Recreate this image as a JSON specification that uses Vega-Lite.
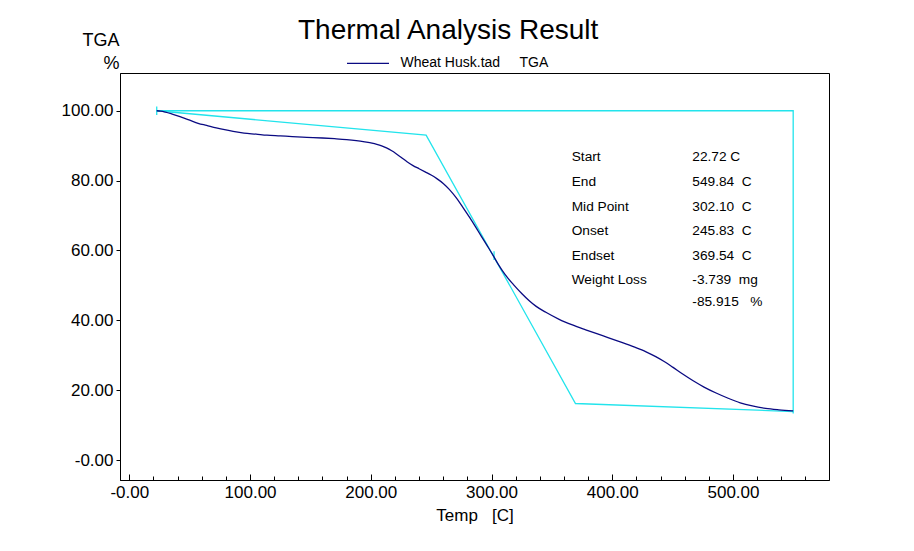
{
  "$schema": "https://vega.github.io/schema/vega-lite/v6.json",
  "width": 709,
  "height": 407,
  "autosize": {"type": "none"},
  "padding": {"left": 120, "top": 73, "right": 85, "bottom": 71},
  "background": "white",
  "config": {
    "view": {"stroke": "black", "strokeWidth": 1},
    "font": "Liberation Sans",
    "axis": {
      "domainColor": "black", "domainWidth": 1, "tickColor": "black", "tickWidth": 1,
      "labelColor": "black", "titleColor": "black", "grid": false,
      "labelFont": "Liberation Sans", "titleFont": "Liberation Sans",
      "labelFontSize": 17, "titleFontSize": 17, "titleFontWeight": "normal",
      "labelOverlap": false, "labelFlush": false, "labelBound": false
    },
    "legend": {"labelFont": "Liberation Sans", "labelColor": "black"}
  },
  "title": {
    "text": "Thermal Analysis Result", "anchor": "start", "frame": "group", "dx": 178, "dy": 72,
    "fontSize": 28, "fontWeight": "normal", "font": "Liberation Sans", "color": "black",
    "baseline": "alphabetic", "offset": 36
  },
  "datasets": {
    "construction": [
      {"seg": "A", "i": 1, "temp": 22.72, "tga": 100.0},
      {"seg": "A", "i": 2, "temp": 549.84, "tga": 100.0},
      {"seg": "A", "i": 3, "temp": 549.84, "tga": 13.3},
      {"seg": "B", "i": 1, "temp": 22.72, "tga": 100.0},
      {"seg": "B", "i": 2, "temp": 245.83, "tga": 93.0},
      {"seg": "B", "i": 3, "temp": 369.54, "tga": 16.2},
      {"seg": "B", "i": 4, "temp": 549.84, "tga": 13.9},
      {"seg": "C", "i": 1, "temp": 22.72, "tga": 98.8},
      {"seg": "C", "i": 2, "temp": 22.72, "tga": 101.2},
      {"seg": "D", "i": 1, "temp": 302.1, "tga": 57.3},
      {"seg": "D", "i": 2, "temp": 302.1, "tga": 59.8}
    ],
    "curve": [
      {"series": "Wheat Husk.tad", "temp": 22.72, "tga": 100.0},
      {"series": "Wheat Husk.tad", "temp": 26, "tga": 99.9},
      {"series": "Wheat Husk.tad", "temp": 30, "tga": 99.6},
      {"series": "Wheat Husk.tad", "temp": 35, "tga": 99.1},
      {"series": "Wheat Husk.tad", "temp": 42, "tga": 98.3},
      {"series": "Wheat Husk.tad", "temp": 50, "tga": 97.3},
      {"series": "Wheat Husk.tad", "temp": 57, "tga": 96.4},
      {"series": "Wheat Husk.tad", "temp": 64, "tga": 95.8},
      {"series": "Wheat Husk.tad", "temp": 72, "tga": 95.1},
      {"series": "Wheat Husk.tad", "temp": 80, "tga": 94.5},
      {"series": "Wheat Husk.tad", "temp": 86, "tga": 94.1},
      {"series": "Wheat Husk.tad", "temp": 95, "tga": 93.6},
      {"series": "Wheat Husk.tad", "temp": 105, "tga": 93.3},
      {"series": "Wheat Husk.tad", "temp": 114, "tga": 93.0},
      {"series": "Wheat Husk.tad", "temp": 125, "tga": 92.8},
      {"series": "Wheat Husk.tad", "temp": 135, "tga": 92.6},
      {"series": "Wheat Husk.tad", "temp": 147, "tga": 92.4},
      {"series": "Wheat Husk.tad", "temp": 160, "tga": 92.2},
      {"series": "Wheat Husk.tad", "temp": 170, "tga": 92.0},
      {"series": "Wheat Husk.tad", "temp": 180, "tga": 91.75},
      {"series": "Wheat Husk.tad", "temp": 188, "tga": 91.45},
      {"series": "Wheat Husk.tad", "temp": 195, "tga": 91.1},
      {"series": "Wheat Husk.tad", "temp": 201, "tga": 90.75},
      {"series": "Wheat Husk.tad", "temp": 205, "tga": 90.4},
      {"series": "Wheat Husk.tad", "temp": 209, "tga": 89.95},
      {"series": "Wheat Husk.tad", "temp": 213, "tga": 89.35},
      {"series": "Wheat Husk.tad", "temp": 217, "tga": 88.6},
      {"series": "Wheat Husk.tad", "temp": 221, "tga": 87.7},
      {"series": "Wheat Husk.tad", "temp": 225, "tga": 86.7},
      {"series": "Wheat Husk.tad", "temp": 230, "tga": 85.4},
      {"series": "Wheat Husk.tad", "temp": 235, "tga": 84.3},
      {"series": "Wheat Husk.tad", "temp": 240, "tga": 83.4},
      {"series": "Wheat Husk.tad", "temp": 245, "tga": 82.5},
      {"series": "Wheat Husk.tad", "temp": 250, "tga": 81.6},
      {"series": "Wheat Husk.tad", "temp": 255, "tga": 80.5},
      {"series": "Wheat Husk.tad", "temp": 260, "tga": 79.2},
      {"series": "Wheat Husk.tad", "temp": 265, "tga": 77.5},
      {"series": "Wheat Husk.tad", "temp": 271, "tga": 75.0},
      {"series": "Wheat Husk.tad", "temp": 276, "tga": 72.5},
      {"series": "Wheat Husk.tad", "temp": 282, "tga": 69.4},
      {"series": "Wheat Husk.tad", "temp": 289, "tga": 65.5},
      {"series": "Wheat Husk.tad", "temp": 296, "tga": 61.6},
      {"series": "Wheat Husk.tad", "temp": 301.3, "tga": 58.6},
      {"series": "Wheat Husk.tad", "temp": 306, "tga": 55.8},
      {"series": "Wheat Husk.tad", "temp": 311, "tga": 53.2},
      {"series": "Wheat Husk.tad", "temp": 318, "tga": 50.3},
      {"series": "Wheat Husk.tad", "temp": 325, "tga": 47.7},
      {"series": "Wheat Husk.tad", "temp": 331, "tga": 45.7},
      {"series": "Wheat Husk.tad", "temp": 337, "tga": 44.0},
      {"series": "Wheat Husk.tad", "temp": 345, "tga": 42.3},
      {"series": "Wheat Husk.tad", "temp": 356, "tga": 40.3},
      {"series": "Wheat Husk.tad", "temp": 367, "tga": 38.7},
      {"series": "Wheat Husk.tad", "temp": 378, "tga": 37.3},
      {"series": "Wheat Husk.tad", "temp": 392, "tga": 35.6},
      {"series": "Wheat Husk.tad", "temp": 406, "tga": 33.9},
      {"series": "Wheat Husk.tad", "temp": 418, "tga": 32.4},
      {"series": "Wheat Husk.tad", "temp": 428, "tga": 31.0},
      {"series": "Wheat Husk.tad", "temp": 436, "tga": 29.6},
      {"series": "Wheat Husk.tad", "temp": 443, "tga": 28.2},
      {"series": "Wheat Husk.tad", "temp": 450, "tga": 26.6},
      {"series": "Wheat Husk.tad", "temp": 458, "tga": 24.7},
      {"series": "Wheat Husk.tad", "temp": 467, "tga": 22.7},
      {"series": "Wheat Husk.tad", "temp": 476, "tga": 20.9},
      {"series": "Wheat Husk.tad", "temp": 486, "tga": 19.2},
      {"series": "Wheat Husk.tad", "temp": 496, "tga": 17.7},
      {"series": "Wheat Husk.tad", "temp": 506, "tga": 16.4},
      {"series": "Wheat Husk.tad", "temp": 516, "tga": 15.5},
      {"series": "Wheat Husk.tad", "temp": 527, "tga": 14.8},
      {"series": "Wheat Husk.tad", "temp": 538, "tga": 14.4},
      {"series": "Wheat Husk.tad", "temp": 549.84, "tga": 14.1}
    ],
    "results": [
      {"name": "Start", "value": "22.72\u00a0C", "ty": 86.84},
      {"name": "End", "value": "549.84\u00a0\u00a0C", "ty": 79.51},
      {"name": "Mid Point", "value": "302.10\u00a0\u00a0C", "ty": 72.36},
      {"name": "Onset", "value": "245.83\u00a0\u00a0C", "ty": 65.57},
      {"name": "Endset", "value": "369.54\u00a0\u00a0C", "ty": 58.42},
      {"name": "Weight Loss", "value": "-3.739\u00a0\u00a0mg", "ty": 51.55},
      {"name": "", "value": "-85.915\u00a0\u00a0\u00a0%", "ty": 45.34}
    ]
  },
  "layer": [
    {
      "data": {"name": "construction"},
      "mark": {"type": "line", "color": "#22e4ec", "strokeWidth": 1.3, "clip": false},
      "encoding": {
        "x": {
          "field": "temp", "type": "quantitative",
          "scale": {"domain": [-7.7, 579.5], "nice": false, "zero": false},
          "axis": {
            "values": [0, 20, 40, 60, 80, 100, 120, 140, 160, 180, 200, 220, 240, 260, 280, 300, 320, 340, 360, 380, 400, 420, 440, 460, 480, 500, 520, 540, 560],
            "labelExpr": "datum.value % 100 === 0 ? (datum.value === 0 ? '-0.00' : format(datum.value, '.2f')) : ''",
            "labelOverlap": false, "labelFlush": false, "labelBound": false,
            "tickSize": {"condition": {"test": "datum.value % 100 === 0", "value": -6}, "value": -4},
            "labelPadding": 10,
            "title": "Temp\u00a0\u00a0\u00a0[C]",
            "titleY": 40.5, "titleBaseline": "alphabetic"
          }
        },
        "y": {
          "field": "tga", "type": "quantitative",
          "scale": {"domain": [-5.7, 110.8], "nice": false, "zero": false},
          "axis": {
            "values": [0, 20, 40, 60, 80, 100],
            "labelExpr": "datum.value === 0 ? '-0.00' : format(datum.value, '.2f')",
            "labelOverlap": false, "labelFlush": false,
            "tickSize": 4, "labelPadding": 3,
            "title": ["TGA", "%"],
            "titleAngle": 0, "titleAlign": "right", "titleBaseline": "alphabetic",
            "titleX": -1, "titleY": -28, "titleFontSize": 18, "titleLineHeight": 23
          }
        },
        "detail": {"field": "seg", "type": "nominal"},
        "order": {"field": "i", "type": "quantitative"}
      }
    },
    {
      "data": {"name": "curve"},
      "mark": {"type": "line", "strokeWidth": 1.3, "interpolate": "monotone"},
      "encoding": {
        "x": {
          "field": "temp", "type": "quantitative",
          "axis": {
            "values": [0, 20, 40, 60, 80, 100, 120, 140, 160, 180, 200, 220, 240, 260, 280, 300, 320, 340, 360, 380, 400, 420, 440, 460, 480, 500, 520, 540, 560],
            "labelExpr": "datum.value % 100 === 0 ? (datum.value === 0 ? '-0.00' : format(datum.value, '.2f')) : ''",
            "labelOverlap": false, "labelFlush": false, "labelBound": false,
            "tickSize": {"condition": {"test": "datum.value % 100 === 0", "value": -6}, "value": -4},
            "labelPadding": 10,
            "title": "Temp\u00a0\u00a0\u00a0[C]",
            "titleY": 40.5, "titleBaseline": "alphabetic"
          }
        },
        "y": {
          "field": "tga", "type": "quantitative",
          "axis": {
            "values": [0, 20, 40, 60, 80, 100],
            "labelExpr": "datum.value === 0 ? '-0.00' : format(datum.value, '.2f')",
            "labelOverlap": false, "labelFlush": false,
            "tickSize": 4, "labelPadding": 3,
            "title": ["TGA", "%"],
            "titleAngle": 0, "titleAlign": "right", "titleBaseline": "alphabetic",
            "titleX": -1, "titleY": -28, "titleFontSize": 18, "titleLineHeight": 23
          }
        },
        "color": {
          "field": "series", "type": "nominal",
          "scale": {"range": ["#0a0a82"]},
          "legend": {
            "title": null, "orient": "none", "legendX": 226, "legendY": -31.6,
            "padding": 0, "symbolType": "stroke", "symbolSize": 1764, "symbolStrokeWidth": 1.2,
            "labelFontSize": 14, "labelOffset": 10.5,
            "labelExpr": "datum.label + '\u00a0\u00a0\u00a0\u00a0\u00a0TGA'"
          }
        }
      }
    },
    {
      "data": {"name": "results"},
      "mark": {"type": "text", "align": "left", "baseline": "middle", "fontSize": 13.7, "font": "Liberation Sans", "color": "black"},
      "encoding": {
        "x": {
          "datum": 366.4, "type": "quantitative",
          "axis": {
            "values": [0, 20, 40, 60, 80, 100, 120, 140, 160, 180, 200, 220, 240, 260, 280, 300, 320, 340, 360, 380, 400, 420, 440, 460, 480, 500, 520, 540, 560],
            "labelExpr": "datum.value % 100 === 0 ? (datum.value === 0 ? '-0.00' : format(datum.value, '.2f')) : ''",
            "labelOverlap": false, "labelFlush": false, "labelBound": false,
            "tickSize": {"condition": {"test": "datum.value % 100 === 0", "value": -6}, "value": -4},
            "labelPadding": 10,
            "title": "Temp\u00a0\u00a0\u00a0[C]",
            "titleY": 40.5, "titleBaseline": "alphabetic"
          }
        },
        "y": {
          "field": "ty", "type": "quantitative",
          "axis": {
            "values": [0, 20, 40, 60, 80, 100],
            "labelExpr": "datum.value === 0 ? '-0.00' : format(datum.value, '.2f')",
            "labelOverlap": false, "labelFlush": false,
            "tickSize": 4, "labelPadding": 3,
            "title": ["TGA", "%"],
            "titleAngle": 0, "titleAlign": "right", "titleBaseline": "alphabetic",
            "titleX": -1, "titleY": -28, "titleFontSize": 18, "titleLineHeight": 23
          }
        },
        "text": {"field": "name"}
      }
    },
    {
      "data": {"name": "results"},
      "mark": {"type": "text", "align": "left", "baseline": "middle", "fontSize": 13.7, "font": "Liberation Sans", "color": "black"},
      "encoding": {
        "x": {
          "datum": 466.3, "type": "quantitative",
          "axis": {
            "values": [0, 20, 40, 60, 80, 100, 120, 140, 160, 180, 200, 220, 240, 260, 280, 300, 320, 340, 360, 380, 400, 420, 440, 460, 480, 500, 520, 540, 560],
            "labelExpr": "datum.value % 100 === 0 ? (datum.value === 0 ? '-0.00' : format(datum.value, '.2f')) : ''",
            "labelOverlap": false, "labelFlush": false, "labelBound": false,
            "tickSize": {"condition": {"test": "datum.value % 100 === 0", "value": -6}, "value": -4},
            "labelPadding": 10,
            "title": "Temp\u00a0\u00a0\u00a0[C]",
            "titleY": 40.5, "titleBaseline": "alphabetic"
          }
        },
        "y": {
          "field": "ty", "type": "quantitative",
          "axis": {
            "values": [0, 20, 40, 60, 80, 100],
            "labelExpr": "datum.value === 0 ? '-0.00' : format(datum.value, '.2f')",
            "labelOverlap": false, "labelFlush": false,
            "tickSize": 4, "labelPadding": 3,
            "title": ["TGA", "%"],
            "titleAngle": 0, "titleAlign": "right", "titleBaseline": "alphabetic",
            "titleX": -1, "titleY": -28, "titleFontSize": 18, "titleLineHeight": 23
          }
        },
        "text": {"field": "value"}
      }
    }
  ]
}
